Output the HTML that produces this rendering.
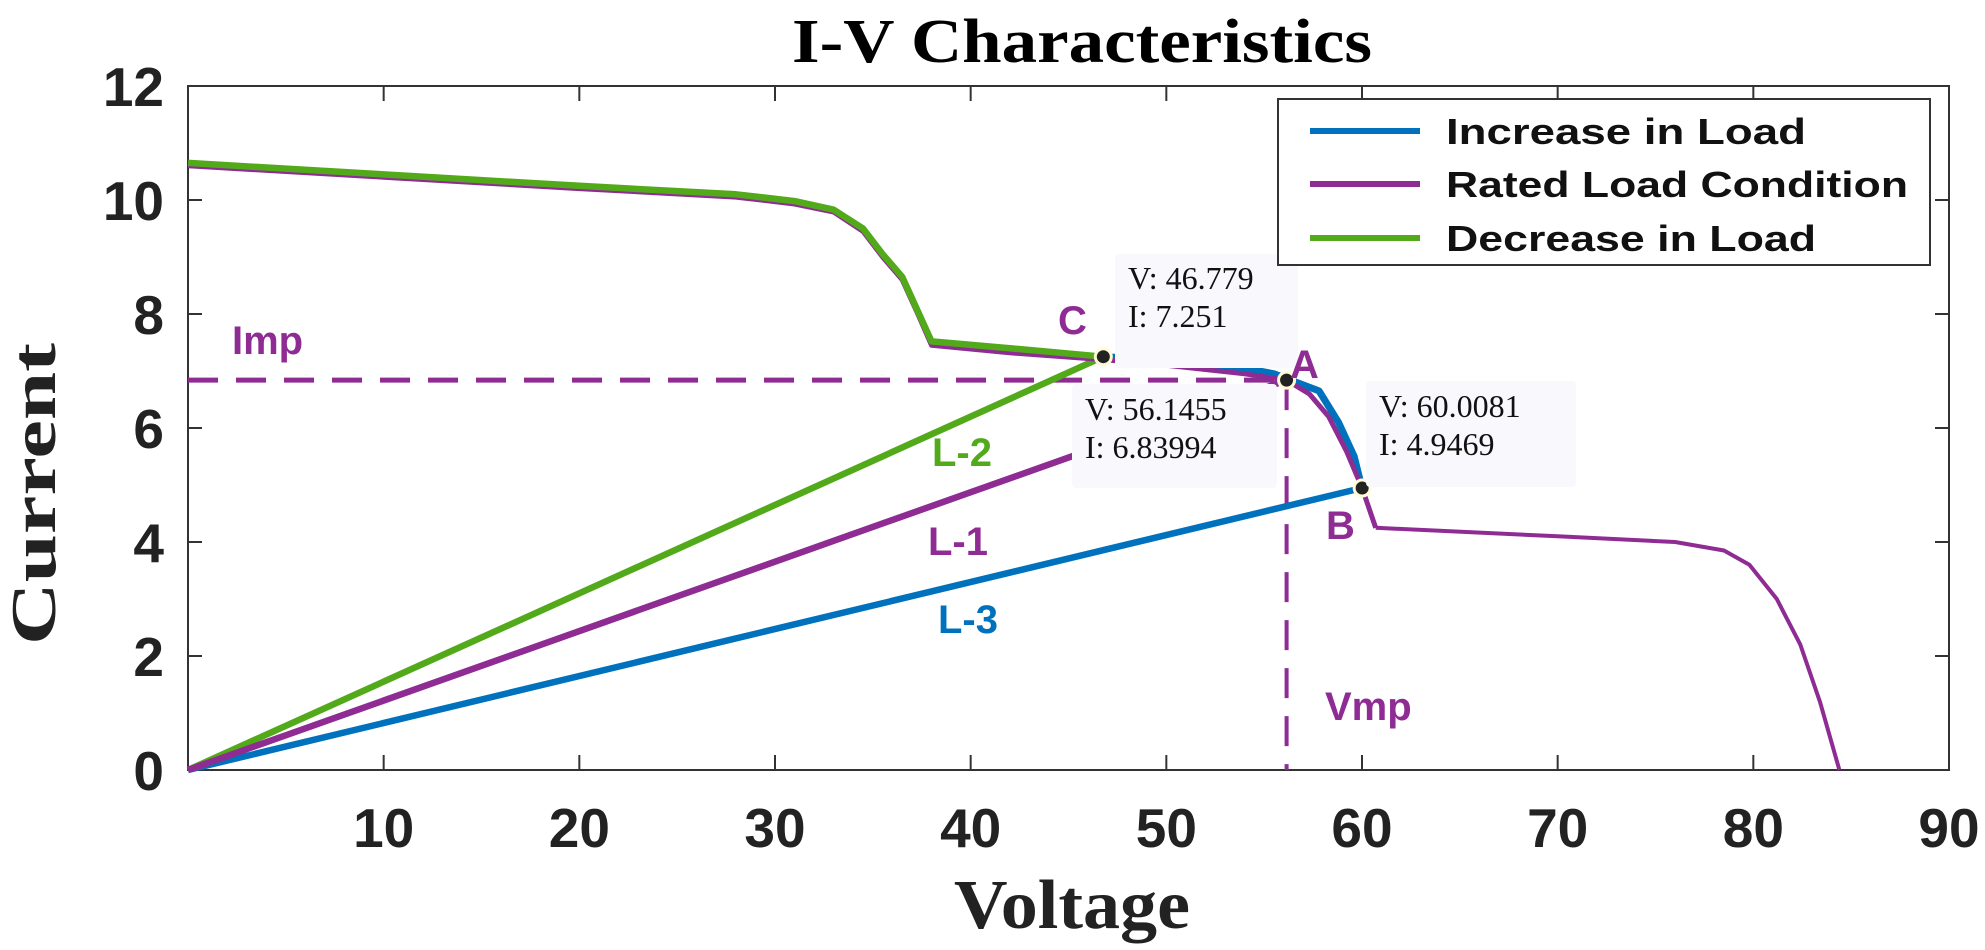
<!DOCTYPE html>
<html><head><meta charset="utf-8"><style>
html,body{margin:0;padding:0;background:#fff;}
svg{display:block}
</style></head><body>
<svg id="s" width="1985" height="950" viewBox="0 0 1985 950" xmlns="http://www.w3.org/2000/svg">
<rect width="1985" height="950" fill="#fff"/>
<text x="1082" y="62" font-family="Liberation Serif, serif" font-weight="bold" font-size="62" text-anchor="middle" fill="#000" textLength="580" lengthAdjust="spacingAndGlyphs">I-V Characteristics</text>
<g id="plot"></g>
<g font-family="Liberation Sans, sans-serif" font-weight="bold" font-size="55" fill="#222" text-anchor="end" id="yt"></g>
<g font-family="Liberation Sans, sans-serif" font-weight="bold" font-size="55" fill="#222" text-anchor="middle" id="xt"></g>
<text x="1072" y="928" font-family="Liberation Serif, serif" font-weight="bold" font-size="70" text-anchor="middle" fill="#222" textLength="236" lengthAdjust="spacingAndGlyphs">Voltage</text>
<text transform="translate(55,494) rotate(-90)" font-family="Liberation Serif, serif" font-weight="bold" font-size="64" text-anchor="middle" fill="#222" textLength="302" lengthAdjust="spacingAndGlyphs">Current</text>
</svg>
<script>
var X=function(v){return 188+v*(1949-188)/90},Y=function(i){return 770-57*i};
var P='#8E2C94',G='#52AA1B',B='#0072BD';
function path(pts,c,w,extra){return '<path d="M'+pts.map(function(p){return X(p[0]).toFixed(1)+','+Y(p[1]).toFixed(1)}).join(' L')+'" fill="none" stroke="'+c+'" stroke-width="'+w+'" stroke-linejoin="round" '+(extra||'')+'/>';}
var h='';
h+='<rect x="188" y="86" width="1761" height="684" fill="none" stroke="#333" stroke-width="2"/>';
for(var v=10;v<90;v+=10){h+='<line x1="'+X(v)+'" y1="770" x2="'+X(v)+'" y2="755" stroke="#333" stroke-width="2"/><line x1="'+X(v)+'" y1="86" x2="'+X(v)+'" y2="101" stroke="#333" stroke-width="2"/>';}
for(var i=2;i<12;i+=2){h+='<line x1="188" y1="'+Y(i)+'" x2="202" y2="'+Y(i)+'" stroke="#333" stroke-width="2"/><line x1="1949" y1="'+Y(i)+'" x2="1935" y2="'+Y(i)+'" stroke="#333" stroke-width="2"/>';}
h+=path([[0,6.84],[56.1455,6.84]],P,5,'stroke-dasharray="30,18"');
h+=path([[56.1455,6.84],[56.1455,0]],P,4,'stroke-dasharray="30,18"');
h+=path([[0,0],[60.0081,4.9469]],B,6.5);
h+=path([[0,0],[46.779,7.251]],G,6.5);
h+=path([[0,0],[56.1455,6.84]],P,6.5);
var rated=[[0,10.6],[10,10.4],[20,10.2],[28,10.05],[31,9.93],[33,9.79],[34.5,9.45],[35.5,9.0],[36.5,8.6],[37.3,8.0],[38,7.45],[42,7.32],[46.779,7.2],[50,7.1],[54,6.95],[56.1455,6.84],[57.3,6.6],[58.3,6.2],[59.2,5.6],[60.0,4.95],[60.7,4.25],[70,4.1],[76,4.0],[78.5,3.85],[79.8,3.6],[81.2,3.0],[82.4,2.2],[83.4,1.2],[84.4,0]];
h+=path([[46.779,7.25],[50,7.2],[54,7.05],[55.5,6.95],[57.8,6.65],[58.8,6.1],[59.6,5.5],[60.0,4.95]],B,7);
h+=path(rated.slice(0,21),P,5);
h+=path(rated.slice(20),P,4);
h+=path([[0,10.65],[10,10.45],[20,10.25],[28,10.1],[31,9.98],[33,9.83],[34.5,9.5],[35.5,9.05],[36.5,8.65],[37.3,8.05],[38,7.52],[42,7.4],[46.779,7.251]],G,6.5);
[[46.779,7.251],[56.1455,6.84],[60.0081,4.9469]].forEach(function(p){h+='<circle cx="'+X(p[0])+'" cy="'+Y(p[1])+'" r="8" fill="#222" stroke="#fffbd5" stroke-width="3"/>';});
function tip(x,y,w,hh,l1,l2,tx,b1){return '<rect x="'+x+'" y="'+y+'" width="'+w+'" height="'+hh+'" rx="4" fill="#f8f8fd"/><text x="'+tx+'" y="'+b1+'" font-family="Liberation Serif, serif" font-size="32" fill="#111">'+l1+'</text><text x="'+tx+'" y="'+(b1+38)+'" font-family="Liberation Serif, serif" font-size="32" fill="#111">'+l2+'</text>';}
h+=tip(1115,254,183,114,'V: 46.779','I: 7.251',1128,289);
h+=tip(1072,384,205,104,'V: 56.1455','I: 6.83994',1085,420);
h+=tip(1366,381,210,106,'V: 60.0081','I: 4.9469',1379,417);
function lab(t,x,y,c){return '<text x="'+x+'" y="'+y+'" font-family="Liberation Sans, sans-serif" font-weight="bold" font-size="40" fill="'+c+'">'+t+'</text>';}
h+=lab('C',1058,334,P)+lab('A',1290,378,P)+lab('B',1326,539,P)+lab('Imp',232,354,P)+lab('Vmp',1325,720,P);
h+=lab('L-2',932,466,G)+lab('L-1',928,555,P)+lab('L-3',938,633,B);
h+='<rect x="1278" y="99" width="652" height="166" fill="#fff" stroke="#333" stroke-width="2"/>';
[['Increase in Load',B,131,360],['Rated Load Condition',P,184,462],['Decrease in Load',G,238,370]].forEach(function(e){
h+='<line x1="1310" y1="'+e[2]+'" x2="1420" y2="'+e[2]+'" stroke="'+e[1]+'" stroke-width="6"/><text x="1446" y="'+(e[2]+13)+'" font-family="Liberation Sans, sans-serif" font-weight="bold" font-size="36" fill="#111" textLength="'+e[3]+'" lengthAdjust="spacingAndGlyphs">'+e[0]+'</text>';});
document.getElementById('plot').innerHTML=h;
var yt='';for(var i=0;i<=12;i+=2){yt+='<text x="164" y="'+(Y(i)+20)+'">'+i+'</text>';}
document.getElementById('yt').innerHTML=yt;
var xt='';for(var v=10;v<=90;v+=10){xt+='<text x="'+X(v)+'" y="847">'+v+'</text>';}
document.getElementById('xt').innerHTML=xt;
</script>
</body></html>
